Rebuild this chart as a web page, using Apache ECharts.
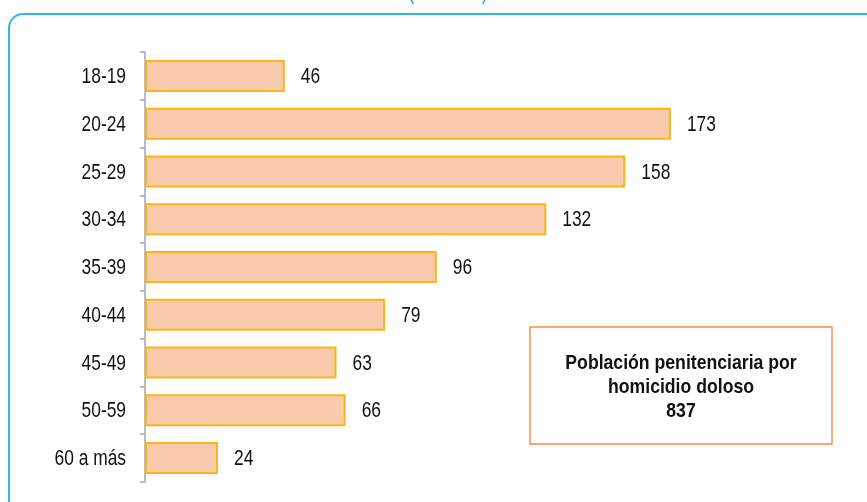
<!DOCTYPE html>
<html>
<head>
<meta charset="utf-8">
<script src="https://cdn.jsdelivr.net/npm/echarts@6/dist/echarts.min.js"></script>
<style>
html,body{margin:0;padding:0;background:#fff;}
#chart{width:867px;height:502px;}
</style>
</head>
<body>
<div id="chart"></div>
<script>
// Age groups (top to bottom) and absolute counts
const categories = ['18-19', '20-24', '25-29', '30-34', '35-39', '40-44', '45-49', '50-59', '60 a más'];
const values = [46, 173, 158, 132, 96, 79, 63, 66, 24];
const subtitleText = '(Absoluto)';
const boxLines = ['Población penitenciaria por', 'homicidio doloso', '837'];

const chart = echarts.init(document.getElementById('chart'));
const FONT = '"Liberation Sans", Arial, sans-serif';
// Narrow-looking type: regular sans squeezed horizontally
const SQUEEZE = 0.79;
const TEXT_COLOR = '#111';

// Category and value labels, positioned through the chart's own axes
function renderLabels(params, api) {
  const v = api.value(0);
  const idx = api.value(1);
  const base = api.coord([0, idx]);
  const end = api.coord([v, idx]);
  return {
    type: 'group',
    children: [
      {
        type: 'text',
        x: base[0] - 19,
        y: base[1] + 1,
        scaleX: SQUEEZE,
        style: {
          text: categories[idx],
          align: 'right',
          verticalAlign: 'middle',
          fontSize: 22,
          fontFamily: FONT,
          fill: TEXT_COLOR
        }
      },
      {
        type: 'text',
        x: end[0] + 16,
        y: end[1] + 1,
        scaleX: SQUEEZE,
        style: {
          text: String(v),
          align: 'left',
          verticalAlign: 'middle',
          fontSize: 22,
          fontFamily: FONT,
          fill: TEXT_COLOR
        }
      }
    ]
  };
}

chart.setOption({
  animation: false,
  grid: { left: 145, right: 114, top: 52, bottom: 20, containLabel: false },
  xAxis: {
    type: 'value',
    min: 0,
    max: 200,
    show: false
  },
  yAxis: {
    type: 'category',
    inverse: true,
    data: categories,
    axisLine: { show: true, lineStyle: { color: '#A6A6A6', width: 1.5 } },
    axisTick: { show: true, length: 5, lineStyle: { color: '#A6A6A6', width: 1.5 } },
    axisLabel: { show: false }
  },
  series: [
    {
      type: 'bar',
      data: values,
      barCategoryGap: '33%',
      itemStyle: { color: '#F7CBAC', borderColor: '#FDB515', borderWidth: 2 }
    },
    {
      type: 'custom',
      data: values.map((v, i) => [v, i]),
      encode: { x: 0, y: 1 },
      clip: false,
      silent: true,
      renderItem: renderLabels
    }
  ],
  graphic: [
    {
      type: 'text',
      x: 448,
      y: -7,
      scaleX: SQUEEZE,
      style: {
        text: subtitleText,
        align: 'center',
        verticalAlign: 'middle',
        fontSize: 22,
        fontFamily: FONT,
        fill: '#1AA7DF'
      }
    },
    {
      type: 'rect',
      shape: { x: 9, y: 14, width: 900, height: 540, r: 14 },
      style: { fill: 'none', stroke: '#36B5E8', lineWidth: 2 },
      silent: true
    },
    {
      type: 'rect',
      shape: { x: 530, y: 327, width: 302, height: 117 },
      style: { fill: '#fff', stroke: '#F58B45', lineWidth: 1.4 }
    },
    {
      type: 'text',
      x: 681,
      y: 387,
      scaleX: 0.84,
      style: {
        text: boxLines.join('\n'),
        align: 'center',
        verticalAlign: 'middle',
        fontSize: 21,
        lineHeight: 24,
        fontWeight: 'bold',
        fontFamily: FONT,
        fill: TEXT_COLOR
      }
    }
  ]
});
</script>
</body>
</html>
